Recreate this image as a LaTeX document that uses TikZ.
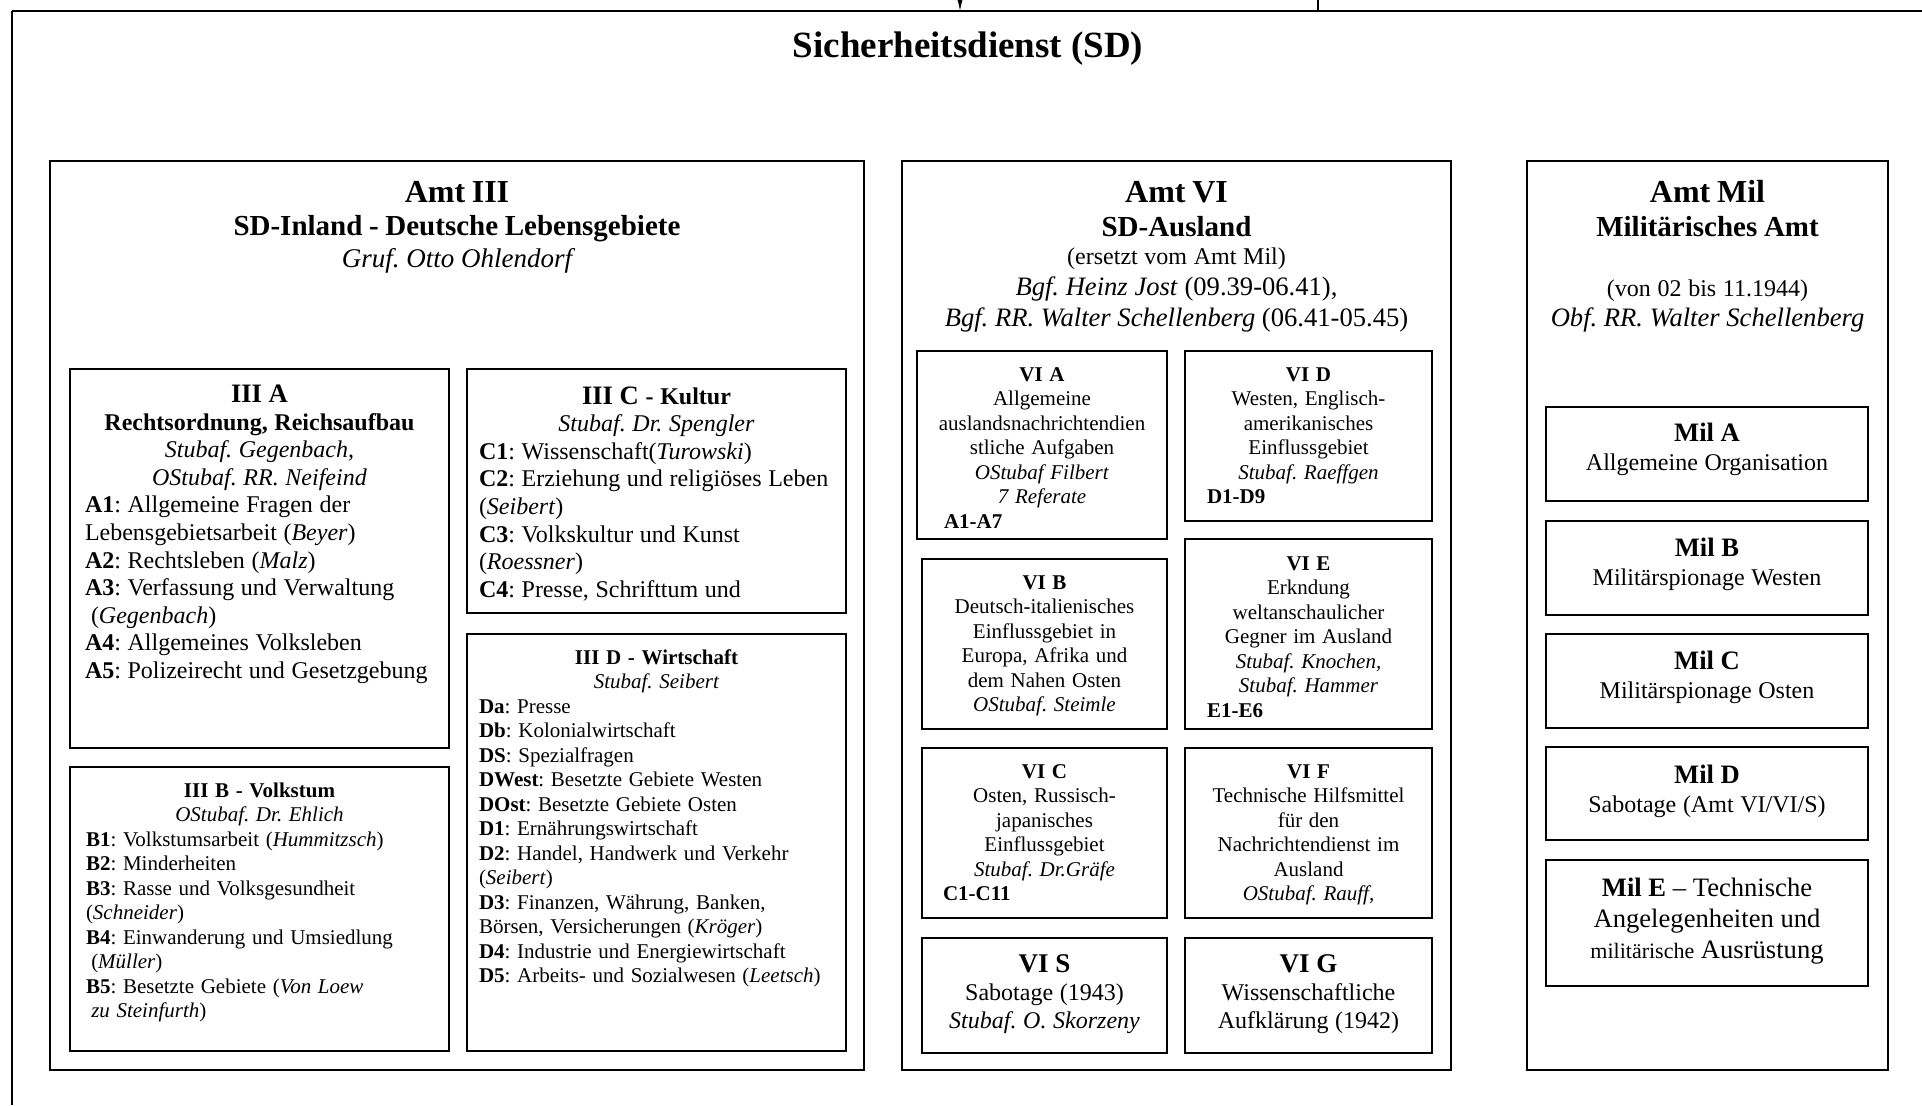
\documentclass[tikz,border=0pt]{standalone}
\usepackage{fontspec}
\setmainfont{Liberation Serif}
\usetikzlibrary{fit,arrows.meta,shadows}

\newcommand\setsz[2]{\fontsize{#1}{#2}\selectfont}

\tikzset{
  amt/.style={draw, line width=0.9pt, fill=white, inner sep=0pt,
    drop shadow={shadow xshift=0.3pt, shadow yshift=-0.7pt, fill=black!60, opacity=1}},
  unit/.style={amt, line width=0.8pt},
  txt/.style={inner sep=0pt, anchor=base},
  thin/.style={line width=0.6pt},
}

\begin{document}
\frenchspacing
\begin{tikzpicture}[x=0.5pt,y=-0.5pt]
\path[use as bounding box, fill=white] (0,0) rectangle (1922,1105);

% SD frame and incoming lines
\coordinate (sdleft) at (12,11);
\coordinate (sdright) at (1922,11);
\coordinate (sdfoot) at (12,1105);
\draw[line width=1.2pt] (sdright) -- (sdleft);
\draw[thin] (sdleft) -- (sdfoot);
\coordinate (fromtop) at (960,-20);
\coordinate (arrin) at (960,11);
\draw[thin, -{Latex[length=7pt,width=3.5pt]}] (fromtop) -- (arrin);
\coordinate (sidetop) at (1318,-5);
\coordinate (sidein) at (1318,11);
\draw[thin] (sidetop) -- (sidein);

\node[txt, font=\setsz{18.5}{22}\bfseries] (sd) at (968,57) {Sicherheitsdienst (SD)};

% Aemter
\node[amt, fit={(50,161) (864,1070)}] (amt3) {};
\node[amt, fit={(902,161) (1451,1070)}] (amt6) {};
\node[amt, fit={(1527,161) (1888,1070)}] (amtmil) {};

\node[txt, text width=380pt, align=center] (amt3head) at (457,202) {%
  \setsz{16}{18}\bfseries Amt III\\
  \setsz{14.5}{16.8}SD-Inland - Deutsche Lebensgebiete\\
  \setsz{13.5}{16}\normalfont\itshape Gruf. Otto Ohlendorf\par};

\node[txt, text width=270pt, align=center] (amt6head) at (1176.5,202) {%
  \setsz{16}{18}\bfseries Amt VI\\
  \setsz{14.5}{17}SD-Ausland\\
  \setsz{12}{14}\normalfont (ersetzt vom Amt Mil)\\
  \setsz{13.3}{15.5}\textit{Bgf. Heinz Jost} (09.39-06.41),\\
  \setsz{13.3}{15.5}\textit{Bgf. RR. Walter Schellenberg} (06.41-05.45)\par};

\node[txt, text width=175pt, align=center] (milhead) at (1707.5,202.6) {%
  \setsz{16}{18}\bfseries Amt Mil\\
  \setsz{14.5}{16.8}Militärisches Amt\\[16.5pt]
  \setsz{12}{13.5}\normalfont (von 02 bis 11.1944)\\
  \setsz{13.3}{15.2}\itshape Obf. RR. Walter Schellenberg\par};

% Amt III
\node[unit, fit={(70,369) (449,748)}] (IIIA) {};
\node[unit, fit={(467,369) (846,613)}] (IIIC) {};
\node[unit, fit={(70,767) (449,1051)}] (IIIB) {};
\node[unit, fit={(467,634) (846,1051)}] (IIID) {};

\node[txt, text width=174.5pt] (IIIAtxt) at (259.5,402.5) {\raggedright\setsz{12}{13.8}%
  {\centering\setsz{13.3}{13.8}\textbf{III A}\\
   \setsz{12}{13.8}\textbf{Rechtsordnung, Reichsaufbau}\\
   \textit{Stubaf. Gegenbach,}\\
   \textit{OStubaf. RR. Neifeind}\par}
  \textbf{A1}: Allgemeine Fragen der\\
  Lebensgebietsarbeit (\textit{Beyer})\\
  \textbf{A2}: Rechtsleben (\textit{Malz})\\
  \textbf{A3}: Verfassung und Verwaltung\\
  \hspace*{.25em}(\textit{Gegenbach})\\
  \textbf{A4}: Allgemeines Volksleben\\
  \textbf{A5}: Polizeirecht und Gesetzgebung\par};

\node[txt, text width=177.5pt] (IIICtxt) at (656.5,404) {\raggedright\setsz{12}{13.8}%
  {\centering\textbf{\setsz{13.3}{13.8}III C \setsz{12}{13.8}- Kultur}\\
   \textit{Stubaf. Dr. Spengler}\par}
  \textbf{C1}: Wissenschaft(\textit{Turowski})\\
  \textbf{C2}: Erziehung und religiöses Leben\\
  (\textit{Seibert})\\
  \textbf{C3}: Volkskultur und Kunst\\
  (\textit{Roessner})\\
  \textbf{C4}: Presse, Schrifttum und\par};

\node[txt, text width=173.5pt] (IIIBtxt) at (259.5,797) {\raggedright\setsz{10.5}{12.25}%
  {\centering\textbf{III B - Volkstum}\\
   \textit{OStubaf. Dr. Ehlich}\par}
  \textbf{B1}: Volkstumsarbeit (\textit{Hummitzsch})\\
  \textbf{B2}: Minderheiten\\
  \textbf{B3}: Rasse und Volksgesundheit\\
  (\textit{Schneider})\\
  \textbf{B4}: Einwanderung und Umsiedlung\\
  \hspace*{.25em}(\textit{Müller})\\
  \textbf{B5}: Besetzte Gebiete (\textit{Von Loew}\\
  \hspace*{.25em}\textit{zu Steinfurth})\par};

\node[txt, text width=177.5pt] (IIIDtxt) at (656.5,664) {\raggedright\setsz{10.5}{12.25}%
  {\centering\textbf{III D - Wirtschaft}\\
   \textit{Stubaf. Seibert}\par}
  \textbf{Da}: Presse\\
  \textbf{Db}: Kolonialwirtschaft\\
  \textbf{DS}: Spezialfragen\\
  \textbf{DWest}: Besetzte Gebiete Westen\\
  \textbf{DOst}: Besetzte Gebiete Osten\\
  \textbf{D1}: Ernährungswirtschaft\\
  \textbf{D2}: Handel, Handwerk und Verkehr\\
  (\textit{Seibert})\\
  \textbf{D3}: Finanzen, Währung, Banken,\\
  Börsen, Versicherungen (\textit{Kröger})\\
  \textbf{D4}: Industrie und Energiewirtschaft\\
  \textbf{D5}: Arbeits- und Sozialwesen (\textit{Leetsch})\par};

% Amt VI
\node[unit, fit={(917,351) (1167,539)}] (VIA) {};
\node[unit, fit={(1185,351) (1432,521)}] (VID) {};
\node[unit, fit={(922,559) (1167,729)}] (VIB) {};
\node[unit, fit={(1185,539) (1432,729)}] (VIE) {};
\node[unit, fit={(922,748) (1167,918)}] (VIC) {};
\node[unit, fit={(1185,748) (1432,918)}] (VIF) {};
\node[unit, fit={(922,938) (1167,1053)}] (VIS) {};
\node[unit, fit={(1185,938) (1432,1053)}] (VIG) {};

\node[txt, text width=110pt] (VIAtxt) at (1042,381) {\setsz{10.5}{12.25}%
  {\centering\textbf{VI A}\\ Allgemeine\\ auslandsnachrichtendien\\ stliche Aufgaben\\
   \textit{OStubaf Filbert}\\ \textit{7 Referate}\par}
  \hspace*{6pt}\textbf{A1-A7}\par};

\node[txt, text width=110pt] (VIDtxt) at (1308.5,381) {\setsz{10.5}{12.25}%
  {\centering\textbf{VI D}\\ Westen, Englisch-\\ amerikanisches\\ Einflussgebiet\\
   \textit{Stubaf. Raeffgen}\par}
  \hspace*{4.25pt}\textbf{D1-D9}\par};

\node[txt, text width=110pt] (VIBtxt) at (1044.5,589) {\setsz{10.5}{12.25}%
  {\centering\textbf{VI B}\\ Deutsch-italienisches\\ Einflussgebiet in\\ Europa, Afrika und\\
   dem Nahen Osten\\ \textit{OStubaf. Steimle}\par}};

\node[txt, text width=110pt] (VIEtxt) at (1308.5,570) {\setsz{10.5}{12.25}%
  {\centering\textbf{VI E}\\ Erkndung\\ weltanschaulicher\\ Gegner im Ausland\\
   \textit{Stubaf. Knochen,}\\ \textit{Stubaf. Hammer}\par}
  \hspace*{4.25pt}\textbf{E1-E6}\par};

\node[txt, text width=110pt] (VICtxt) at (1044.5,778) {\setsz{10.5}{12.25}%
  {\centering\textbf{VI C}\\ Osten, Russisch-\\ japanisches\\ Einflussgebiet\\
   \textit{Stubaf. Dr.Gräfe}\par}
  \hspace*{4.25pt}\textbf{C1-C11}\par};

\node[txt, text width=110pt] (VIFtxt) at (1308.5,778) {\setsz{10.5}{12.25}%
  {\centering\textbf{VI F}\\ Technische Hilfsmittel\\ für den\\ Nachrichtendienst im\\
   Ausland\\ \textit{OStubaf. Rauff,}\par}};

\node[txt, text width=110pt, align=center] (VIStxt) at (1044.5,972) {%
  \setsz{13.5}{14}\textbf{VI S}\\
  \setsz{12}{14.25}Sabotage (1943)\\
  \setsz{12}{14}\textit{Stubaf. O. Skorzeny}\par};

\node[txt, text width=110pt, align=center] (VIGtxt) at (1308.5,972) {%
  \setsz{13.5}{14}\textbf{VI G}\\
  \setsz{12}{14.25}Wissenschaftliche\\
  \setsz{12}{14}Aufklärung (1942)\par};

% Amt Mil
\node[unit, fit={(1546,407) (1868,501)}] (milA) {};
\node[unit, fit={(1546,521) (1868,615)}] (milB) {};
\node[unit, fit={(1546,634) (1868,728)}] (milC) {};
\node[unit, fit={(1546,747) (1868,840)}] (milD) {};
\node[unit, fit={(1546,860) (1868,986)}] (milE) {};

\node[txt, text width=150pt, align=center] (milAtxt) at (1707,441) {%
  \setsz{13.3}{14}\textbf{Mil A}\\ \setsz{12}{14.6}Allgemeine Organisation\par};
\node[txt, text width=150pt, align=center] (milBtxt) at (1707,556) {%
  \setsz{13.3}{14}\textbf{Mil B}\\ \setsz{12}{14.6}Militärspionage Westen\par};
\node[txt, text width=150pt, align=center] (milCtxt) at (1707,669) {%
  \setsz{13.3}{14}\textbf{Mil C}\\ \setsz{12}{14.6}Militärspionage Osten\par};
\node[txt, text width=150pt, align=center] (milDtxt) at (1707,783) {%
  \setsz{13.3}{14}\textbf{Mil D}\\ \setsz{12}{14.6}Sabotage (Amt VI/VI/S)\par};
\node[txt, text width=150pt, align=center] (milEtxt) at (1707,896) {\setsz{13.3}{15.5}%
  \textbf{Mil E} -- Technische\\ Angelegenheiten und\\
  {\setsz{11}{15.5}militärische} Ausrüstung\par};
\end{tikzpicture}
\end{document}
